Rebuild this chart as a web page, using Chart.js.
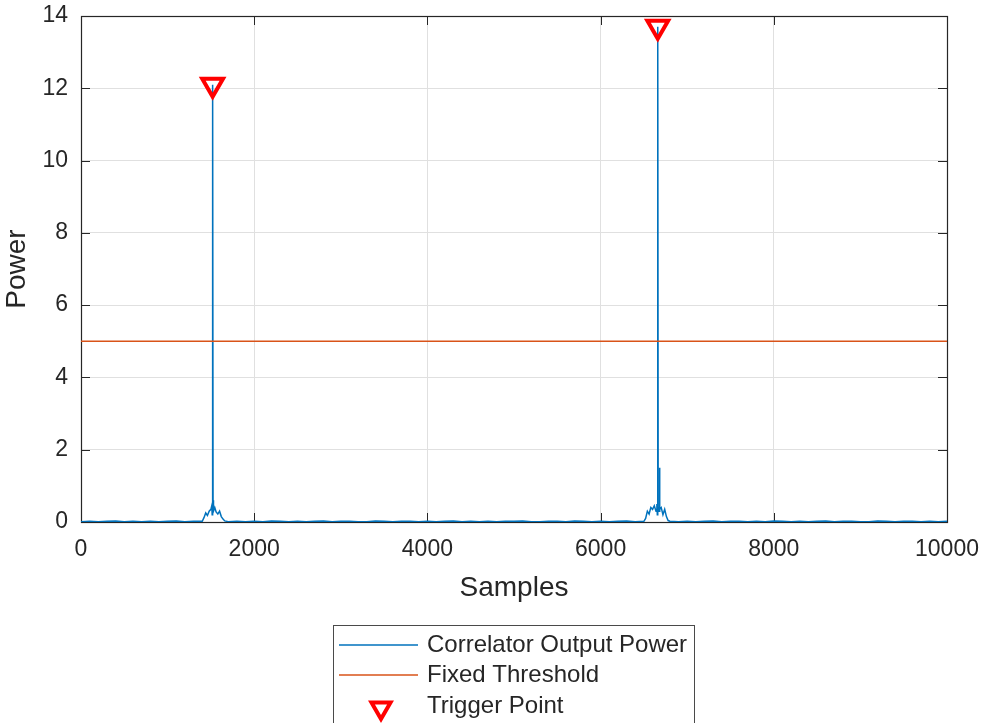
<!DOCTYPE html>
<html lang="en">
<head>
  <meta charset="UTF-8" />
  <title>Correlator Output Power</title>
  <script src="https://cdn.jsdelivr.net/npm/chart.js"></script>
  <style>
    html, body { margin: 0; padding: 0; background: #ffffff; }
    canvas { display: block; }
  </style>
</head>
<body>
  <canvas id="corrChart" width="985" height="723"></canvas>

<script>
// correlator output power (samples / power)
const sampleIdx = [
  0, 100, 200, 300, 400, 500, 600, 700, 800, 900, 1000, 1100, 1200, 1300, 1400,
  1420, 1440, 1460, 1480, 1500, 1510, 1515, 1520, 1525, 1530, 1545, 1560, 1580, 1600, 1620, 1640, 1660, 1700,
  1800, 1900, 2000, 2100, 2200, 2300, 2400, 2500, 2600, 2700,
  2800, 2900, 3000, 3100, 3200, 3300, 3400, 3500, 3600, 3700,
  3800, 3900, 4000, 4100, 4200, 4300, 4400, 4500, 4600, 4700,
  4800, 4900, 5000, 5100, 5200, 5300, 5400, 5500, 5600, 5700,
  5800, 5900, 6000, 6100, 6200, 6300, 6400, 6500,
  6520, 6540, 6560, 6580, 6600, 6620, 6640, 6650, 6655, 6660, 6665, 6675, 6680, 6685, 6700, 6720, 6740, 6760, 6780,
  6800, 6900, 7000, 7100, 7200, 7300, 7400, 7500, 7600, 7700,
  7800, 7900, 8000, 8100, 8200, 8300, 8400, 8500, 8600, 8700,
  8800, 8900, 9000, 9100, 9200, 9300, 9400, 9500, 9600, 9700,
  9800, 9900, 10000
];
const corrPower = [
  0.01, 0.02, 0.01, 0.02, 0.03, 0.01, 0.02, 0.01, 0.02, 0.01, 0.02, 0.03, 0.01, 0.02, 0.02,
  0.12, 0.25, 0.18, 0.3, 0.35, 0.45, 0.2, 12.1, 0.6, 0.3, 0.4, 0.28, 0.22, 0.3, 0.15, 0.08, 0.03, 0.01,
  0.02, 0.01, 0.02, 0.01, 0.03, 0.02, 0.01, 0.02, 0.01, 0.02,
  0.03, 0.01, 0.02, 0.02, 0.01, 0.01, 0.03, 0.02, 0.01, 0.02,
  0.02, 0.01, 0.02, 0.01, 0.02, 0.03, 0.01, 0.02, 0.01, 0.02,
  0.01, 0.02, 0.02, 0.03, 0.01, 0.01, 0.02, 0.02, 0.01, 0.03,
  0.02, 0.01, 0.02, 0.01, 0.02, 0.03, 0.01, 0.02,
  0.1, 0.3, 0.22, 0.4, 0.35, 0.45, 0.3, 0.5, 0.2, 13.7, 0.4, 0.3, 1.5, 0.35, 0.4, 0.2, 0.35, 0.15, 0.04,
  0.02, 0.01, 0.02, 0.01, 0.02, 0.03, 0.01, 0.02, 0.02, 0.01,
  0.02, 0.01, 0.03, 0.02, 0.01, 0.02, 0.01, 0.02, 0.03, 0.01,
  0.02, 0.02, 0.01, 0.01, 0.03, 0.02, 0.01, 0.02, 0.02, 0.01,
  0.02, 0.01, 0.02
];

const thresholdX = [0, 10000];
const thresholdY = [5, 5];

const triggerX = [1520, 6660];
const triggerY = [12.1, 13.7];

const xTicks = [0, 2000, 4000, 6000, 8000, 10000];
const yTicks = [0, 2, 4, 6, 8, 10, 12, 14];

const seriesNames = ['Correlator Output Power', 'Fixed Threshold', 'Trigger Point'];

const toPts = (xs, ys) => xs.map((x, i) => ({ x: x, y: ys[i] }));

const AXIS = '#262626';
const FONT = '"Liberation Sans", Arial, Helvetica, sans-serif';

// box, inward ticks and matlab-like legend
const matlabBits = {
  id: 'matlabBits',
  beforeDatasetsDraw(chart) {
    const { ctx, chartArea: a, scales } = chart;
    ctx.save();
    ctx.strokeStyle = AXIS;
    ctx.lineWidth = 1;
    ctx.beginPath();
    xTicks.forEach(v => {
      const px = Math.round(scales.x.getPixelForValue(v)) + 0.5;
      ctx.moveTo(px, a.bottom); ctx.lineTo(px, a.bottom - 9);
      ctx.moveTo(px, a.top); ctx.lineTo(px, a.top + 9);
    });
    yTicks.forEach(v => {
      const py = Math.round(scales.y.getPixelForValue(v)) + 0.5;
      ctx.moveTo(a.left, py); ctx.lineTo(a.left + 9, py);
      ctx.moveTo(a.right, py); ctx.lineTo(a.right - 9, py);
    });
    ctx.stroke();
    ctx.lineWidth = 1.2;
    ctx.strokeRect(Math.round(a.left) + 0.5, Math.round(a.top) + 0.5,
      Math.round(a.right - a.left), Math.round(a.bottom - a.top));
    ctx.restore();
  },
  afterDraw(chart) {
    const { ctx } = chart;
    const ds = chart.data.datasets;
    ctx.save();
    ctx.fillStyle = '#ffffff';
    ctx.fillRect(333, 625, 361, 110);
    ctx.strokeStyle = '#4a4a4a';
    ctx.lineWidth = 1;
    ctx.strokeRect(333.5, 625.5, 361, 110);
    const rows = [645, 675, 706];
    ctx.font = '24px ' + FONT;
    ctx.textBaseline = 'middle';
    ctx.textAlign = 'left';
    rows.forEach((y, i) => {
      if (i < 2) {
        ctx.strokeStyle = ds[i].borderColor;
        ctx.lineWidth = 1.5;
        ctx.beginPath();
        ctx.moveTo(339, y); ctx.lineTo(418, y);
        ctx.stroke();
      } else {
        const r = 11, cx = 381, cy = y + 2;
        ctx.strokeStyle = ds[i].borderColor;
        ctx.lineWidth = 4;
        ctx.beginPath();
        ctx.moveTo(cx - r * 0.866, cy - r * 0.5);
        ctx.lineTo(cx + r * 0.866, cy - r * 0.5);
        ctx.lineTo(cx, cy + r);
        ctx.closePath();
        ctx.stroke();
      }
      ctx.fillStyle = AXIS;
      ctx.fillText(seriesNames[i], 427, y);
    });
    ctx.restore();
  }
};

new Chart(document.getElementById('corrChart'), {
  type: 'line',
  data: {
    datasets: [
      {
        label: seriesNames[0],
        data: toPts(sampleIdx, corrPower),
        borderColor: '#0072BD',
        borderWidth: 1.5,
        pointRadius: 0,
        tension: 0,
        order: 3
      },
      {
        label: seriesNames[1],
        data: toPts(thresholdX, thresholdY),
        borderColor: '#D95319',
        borderWidth: 1.5,
        pointRadius: 0,
        order: 2
      },
      {
        label: seriesNames[2],
        data: toPts(triggerX, triggerY),
        showLine: false,
        borderColor: '#FF0000',
        backgroundColor: 'rgba(255,255,255,0)',
        pointStyle: 'triangle',
        rotation: 180,
        pointRadius: 12,
        pointBorderWidth: 4,
        clip: false,
        order: 1
      }
    ]
  },
  options: {
    responsive: false,
    animation: false,
    layout: { padding: { top: 14, right: 38, bottom: 118, left: 0 } },
    plugins: {
      legend: { display: false },
      tooltip: { enabled: false }
    },
    scales: {
      x: {
        type: 'linear',
        min: 0,
        max: 10000,
        afterFit: s => { s.height = 83; s.paddingLeft = 0; s.paddingRight = 0; },
        afterBuildTicks: s => { s.ticks = xTicks.map(v => ({ value: v })); },
        grid: { color: '#e0e0e0', drawTicks: false },
        border: { display: false },
        ticks: { color: AXIS, font: { family: FONT, size: 23 }, padding: 14, maxRotation: 0,
                 callback: v => String(v) },
        title: { display: true, text: 'Samples', color: AXIS, font: { family: FONT, size: 28 }, padding: 0 }
      },
      y: {
        type: 'linear',
        min: 0,
        max: 14,
        afterFit: s => { s.width = 81; s.paddingTop = 0; s.paddingBottom = 0; },
        afterBuildTicks: s => { s.ticks = yTicks.map(v => ({ value: v })); },
        grid: { color: '#e0e0e0', drawTicks: false },
        border: { display: false },
        ticks: { color: AXIS, font: { family: FONT, size: 23 }, padding: 13,
                 callback: v => String(v) },
        title: { display: true, text: 'Power', color: AXIS, font: { family: FONT, size: 28 }, padding: 0 }
      }
    }
  },
  plugins: [matlabBits]
});
</script>
</body>
</html>
